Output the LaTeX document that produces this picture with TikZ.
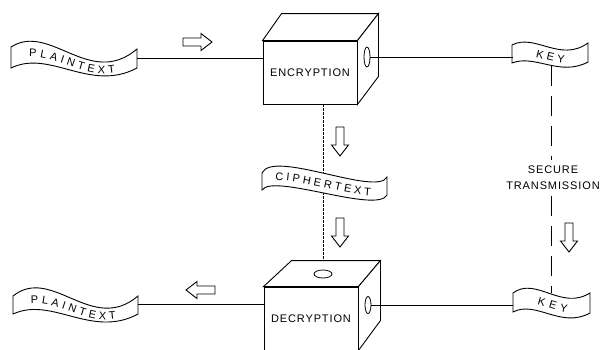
\documentclass[tikz,border=0pt]{standalone}
\usepackage{fontspec}
\setmainfont{Liberation Sans}
\newfontfamily\lblfont[LetterSpace=8]{Liberation Sans}
\newfontfamily\bnfont{Liberation Sans}
\usetikzlibrary{shapes.geometric,decorations.text,calc}
\tikzset{
  face/.style={draw=black, line width=0.9pt, fill=white},
  boxlabel/.style={font=\fontsize{11}{16}\lblfont},
  ghost/.style={draw=none, inner sep=0pt, outer sep=0pt, rectangle},
  conn/.style={line width=0.8pt},
  thinconn/.style={line width=0.6pt, dash pattern=on 3pt off 1pt},
  keydash/.style={line width=0.8pt, dash pattern=on 20pt off 10pt},
  hole/.style={draw, ellipse, inner sep=0pt, line width=0.8pt, fill=white},
  fatarrow/.pic={\draw[line width=0.9pt, fill=white] (0,-4) -- (18,-4) -- (18,-8.5) -- (29,0) -- (18,8.5) -- (18,4) -- (0,4) -- cycle;}
}
\begin{document}
\begin{tikzpicture}[x=1pt,y=-1pt]
\useasboundingbox (0,0) rectangle (600,349);

% ---- anchor nodes for banners
\node[ghost, minimum width=126, minimum height=21] (ptT) at (74,58) {};
\node[ghost, minimum width=125, minimum height=18] (ptB) at (75.5,304) {};
\node[ghost, minimum width=125, minimum height=18] (ct) at (324.5,182) {};
\node[ghost, minimum width=77, minimum height=18] (keyT) at (551,54) {};
\node[ghost, minimum width=77, minimum height=19] (keyB) at (551.5,302.5) {};

% ---- cubes (front faces as nodes)
\node[face, minimum width=94, minimum height=63, inner sep=0pt, boxlabel] (enc) at (310,72.5) {ENCRYPTION};
\node[face, minimum width=94, minimum height=63, inner sep=0pt, boxlabel] (dec) at (311,318.5) {DECRYPTION};
\node[hole, minimum width=18, minimum height=8] (dhole) at (323,274) {};

% vertical connector (behind banner)
\draw[thinconn] ([xshift=13pt]enc.south) -- (dhole.north);

% encryption cube faces
\filldraw[face] (enc.north west) -- ++(19,-27) -- ($(enc.north east)+(21,-27)$) -- (enc.north east) -- cycle;
\filldraw[face] (enc.north east) -- ++(21,-27) -- ++(0,63) -- (enc.south east) -- cycle;
\node[hole, minimum width=6, minimum height=20] (eside) at (367,57) {};

% decryption cube faces
\filldraw[face] (dec.north west) -- ++(28,-26) -- ($(dec.north east)+(22,-26)$) -- (dec.north east) -- cycle;
\filldraw[face] (dec.north east) -- ++(22,-26) -- ++(0,60) -- (dec.south east) -- cycle;
\node[hole, minimum width=18, minimum height=8] at (dhole) {};
\node[hole, minimum width=6, minimum height=17] (dside) at (368,305) {};

% ---- banners
% top PLAINTEXT
\filldraw[face] (11,47) .. controls (50,22) and (90,89) .. (137,49) -- (137,68) .. controls (90,93) and (50,49) .. (11,68) -- cycle;
\path[decorate, decoration={text along path, text={|\fontsize{11}{13}\bnfont|PLAINTEXT}, text align={left indent=19pt, right indent=24pt, fit to path}}]
  (11,62) .. controls (50,40) and (90,95.5) .. (137,63);
% bottom PLAINTEXT
\filldraw[face] (13,296) .. controls (52,265) and (92,335) .. (138,296) -- (138,314) .. controls (92,339) and (52,296) .. (13,314) -- cycle;
\path[decorate, decoration={text along path, text={|\fontsize{11}{13}\bnfont|PLAINTEXT}, text align={left indent=19pt, right indent=24pt, fit to path}}]
  (13,309.5) .. controls (52,285) and (92,341.5) .. (138,309.5);
% CIPHERTEXT
\filldraw[face] (262,173) .. controls (273,149) and (377,197) .. (387,177) -- (387,195) .. controls (377,214) and (273,173) .. (262,190) -- cycle;
\path[decorate, decoration={text along path, text={|\fontsize{11}{13}\bnfont|CIPHERTEXT}, text align={left indent=15pt, right indent=18pt, fit to path}}]
  (262,186) .. controls (273,165.5) and (377,210) .. (387,190.5);
% KEY top
\filldraw[face] (512,45) .. controls (535,33) and (560,63) .. (588,43) -- (588,62) .. controls (560,77) and (535,54) .. (512,63) -- cycle;
\path[decorate, decoration={text along path, text={|\fontsize{11}{13}\bnfont|KEY}, text align={left indent=24pt, right indent=25pt, fit to path}}]
  (512,58.5) .. controls (535,48) and (560,74.5) .. (588,57);
% KEY bottom
\filldraw[face] (513,293) .. controls (536,276) and (561,311) .. (590,293) -- (590,313) .. controls (561,329) and (536,300) .. (513,312) -- cycle;
\path[decorate, decoration={text along path, text={|\fontsize{11}{13}\bnfont|KEY}, text align={left indent=25pt, right indent=24pt, fit to path}}]
  (513,307) .. controls (536,292.5) and (561,324.5) .. (590,307.5);

% ---- connectors
\draw[conn] (ptT.east) -- (ptT.east -| enc.west);
\draw[conn] (eside.east) -- (eside.east -| keyT.west);
\draw[conn] (ptB.east) -- (ptB.east -| dec.west);
\draw[conn] (dside.east) -- (dside.east -| keyB.west);

% secure transmission
\node[boxlabel, align=center, inner sep=6pt] (sec) at (553,178) {SECURE\\TRANSMISSION};
\draw[keydash] ([yshift=-3pt]keyT.south) -- (keyT.south |- sec.north);
\draw[keydash] (keyB.north |- sec.south) -- (keyB.north);

% ---- flow arrows
\pic at (183,42) {fatarrow};
\pic[rotate=180] at (215,290) {fatarrow};
\pic[rotate=-90] at (340,127) {fatarrow};
\pic[rotate=-90] at (340,218) {fatarrow};
\pic[rotate=-90] at (569,223) {fatarrow};
\end{tikzpicture}
\end{document}
